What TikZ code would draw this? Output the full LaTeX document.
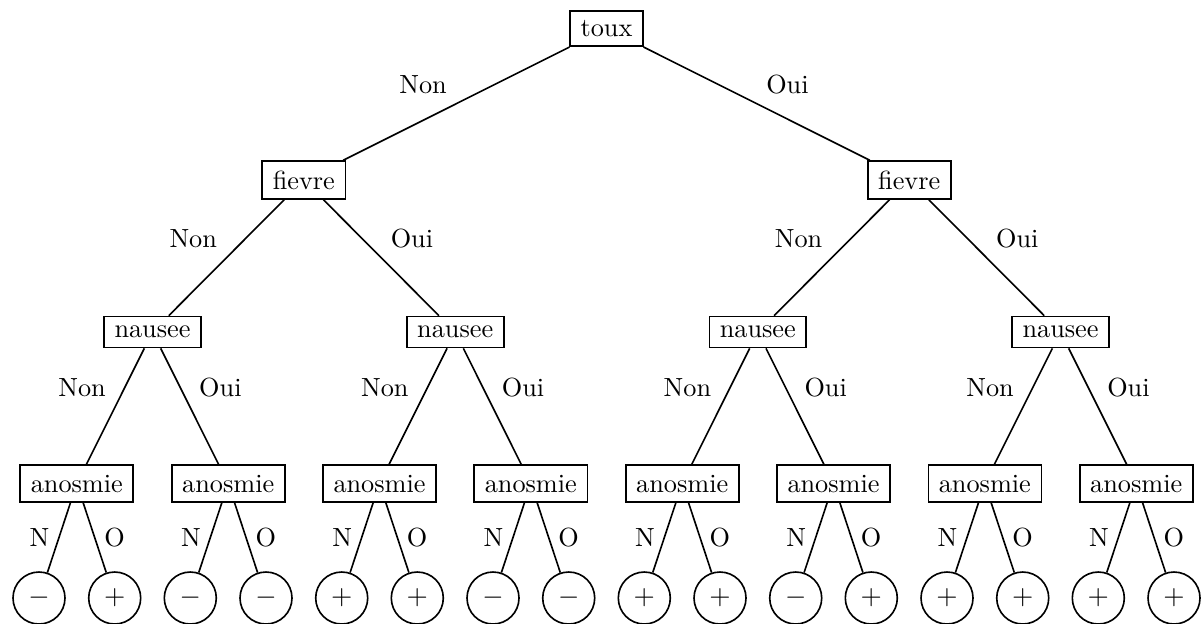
\documentclass[tikz,border=0pt]{standalone}
\begin{document}
\begin{tikzpicture}[x=0.4pt,y=-0.4pt,
  every node/.style={font=\fontsize{10.5}{12.6}\selectfont},
  qbox/.style={draw,line width=0.65pt,inner ysep=3.8pt,inner xsep=4.2pt},
  leaf/.style={draw,circle,line width=0.65pt,minimum size=20.8pt,inner sep=0pt},
  edge/.style={line width=0.65pt},
  lbl/.style={inner sep=3.5pt}]
\useasboundingbox (0,0) rectangle (1203,623);
% root
\node[qbox] (t) at (606.5,28.5) {toux};
% level 1
\node[qbox] (f1) at (303.8,180) {fievre};
\node[qbox] (f2) at (909.2,180) {fievre};
% level 2
\node[qbox] (n1) at (152.5,332) {nausee};
\node[qbox] (n2) at (455.2,332) {nausee};
\node[qbox] (n3) at (757.8,332) {nausee};
\node[qbox] (n4) at (1060.5,332) {nausee};
% level 3
\foreach \i/\x in {1/76.8,2/228.2,3/379.5,4/530.8,5/682.2,6/833.5,7/984.8,8/1136.2}
  \node[qbox] (a\i) at (\x,483.5) {anosmie};
% leaves
\foreach \i/\x/\s in {1/39/-,2/114.7/+,3/190.3/-,4/266/-,5/341.7/+,6/417.3/+,7/493/-,8/568.7/-,
  9/644.3/+,10/720/+,11/795.7/-,12/871.3/+,13/947/+,14/1022.7/+,15/1098.3/+,16/1174/+}
  \node[leaf] (l\i) at (\x,598) {$\s$};
% edges
\draw[edge] (t) -- node[lbl,above left]{Non} (f1);
\draw[edge] (t) -- node[lbl,above right]{Oui} (f2);
\draw[edge] (f1) -- node[lbl,above left]{Non} (n1);
\draw[edge] (f1) -- node[lbl,above right]{Oui} (n2);
\draw[edge] (f2) -- node[lbl,above left]{Non} (n3);
\draw[edge] (f2) -- node[lbl,above right]{Oui} (n4);
\foreach \n/\a/\b in {1/1/2,2/3/4,3/5/6,4/7/8}{
  \draw[edge] (n\n) -- node[lbl,above left]{Non} (a\a);
  \draw[edge] (n\n) -- node[lbl,above right]{Oui} (a\b);
}
\foreach \a/\l/\r in {1/1/2,2/3/4,3/5/6,4/7/8,5/9/10,6/11/12,7/13/14,8/15/16}{
  \draw[edge] (a\a) -- node[lbl,left]{N} (l\l);
  \draw[edge] (a\a) -- node[lbl,right]{O} (l\r);
}
\end{tikzpicture}
\end{document}
